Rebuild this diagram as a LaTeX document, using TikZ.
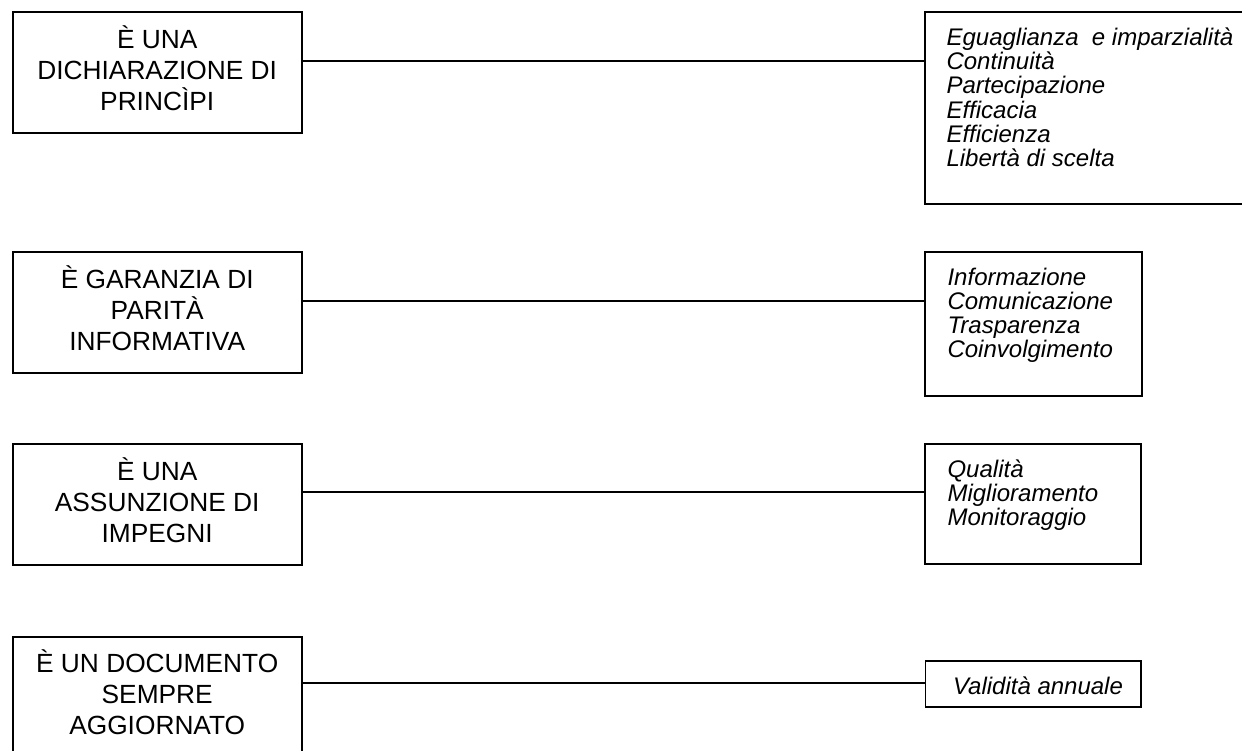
\documentclass[tikz,border=0pt]{standalone}
\usepackage{fontspec}
\setmainfont{Liberation Sans}
\usetikzlibrary{calc}
\newcommand\myleftfont{\fontsize{13.15}{15.5}\selectfont\lineskiplimit-100pt\relax}
\newcommand\myrightfont{\fontsize{12}{12.1}\selectfont\itshape\lineskiplimit-100pt\relax}
\begin{document}
\begin{tikzpicture}[x=0.5pt,y=-0.5pt,
  lbox/.style={draw, line width=0.85pt, minimum width=144.5pt, minimum height=60.2pt,
    inner sep=0pt, align=center, font=\myleftfont},
  rbox/.style={draw, line width=0.85pt, inner sep=0pt},
  rtext/.style={anchor=north west, inner sep=0pt, align=left, font=\myrightfont},
  conn/.style={line width=0.85pt}]
\useasboundingbox (0,0) rectangle (1242,750);
\clip (0,0) rectangle (1242,750);
\fill[white] (0,0) rectangle (1242,750);

% left boxes
\node[lbox] (L1) at (157.2,72.5) {\strut È UNA\\DICHIARAZIONE DI\\PRINCÌPI\strut};
\node[lbox] (L2) at (157.2,312.5) {\strut È GARANZIA DI\\PARITÀ\\INFORMATIVA\strut};
\node[lbox] (L3) at (157.2,504.5) {\strut È UNA\\ASSUNZIONE DI\\IMPEGNI\strut};
\node[lbox] (L4) at (157.2,696.9) {\strut È UN DOCUMENTO\\SEMPRE\\AGGIORNATO\strut};

% right boxes
\node[rbox, minimum width=167.5pt, minimum height=95.85pt] (R1) at (1092.5,108.15) {};
\node[rbox, minimum width=108.65pt, minimum height=71.85pt] (R2) at (1033.65,324.15) {};
\node[rbox, minimum width=107.85pt, minimum height=60pt] (R3) at (1032.85,504.3) {};
\node[rbox, minimum width=107.6pt, minimum height=23pt] (R4) at (1033.1,684) {};

% right texts
\node[rtext] (T1) at ($(R1.north west)+(22,16)$) {\strut Eguaglianza\ \ e imparzialità\\Continuità\\Partecipazione\\Efficacia\\Efficienza\\Libertà di scelta\strut};
\node[rtext] (T2) at ($(R2.north west)+(23,16)$) {\strut Informazione\\Comunicazione\\Trasparenza\\Coinvolgimento\strut};
\node[rtext] (T3) at ($(R3.north west)+(23,16)$) {\strut Qualità\\Miglioramento\\Monitoraggio\strut};
\node[rtext] (T4) at ($(R4.north west)+(28,16)$) {\strut Validità annuale\strut};

% connectors
\coordinate (c1) at (0,61);
\coordinate (c2) at (0,301);
\coordinate (c3) at (0,492.3);
\coordinate (c4) at (0,683);
\draw[conn] (L1.east |- c1) -- (R1.west |- c1);
\draw[conn] (L2.east |- c2) -- (R2.west |- c2);
\draw[conn] (L3.east |- c3) -- (R3.west |- c3);
\draw[conn] (L4.east |- c4) -- (R4.west |- c4);
\end{tikzpicture}
\end{document}
